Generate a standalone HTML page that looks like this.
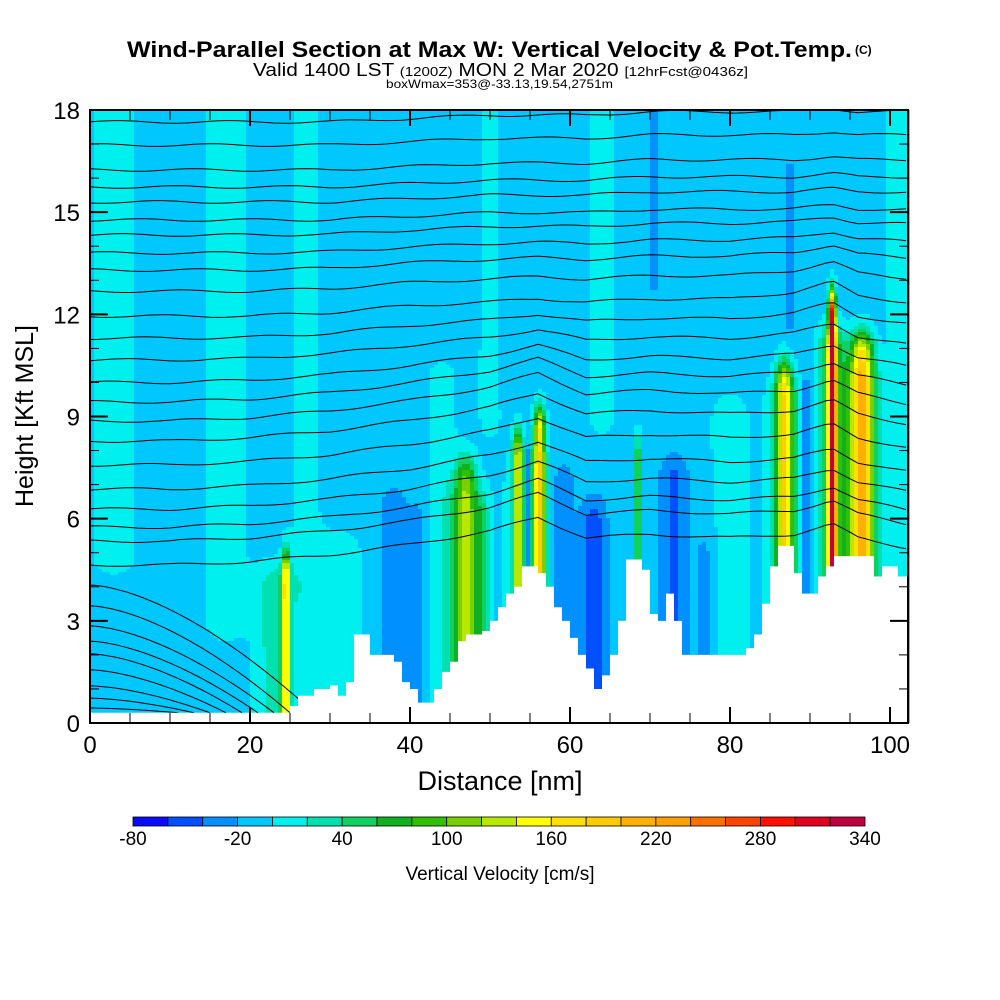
<!DOCTYPE html>
<html><head><meta charset="utf-8"><style>
html,body{margin:0;padding:0;background:#fff;}
svg{display:block;font-family:"Liberation Sans",Arial,sans-serif;}
</style></head><body>
<svg id="chart" width="1000" height="1000" viewBox="0 0 1000 1000">
<rect x="0" y="0" width="1000" height="1000" fill="#fff"/>
<text x="127" y="57" textLength="725" lengthAdjust="spacingAndGlyphs" font-size="22" font-weight="bold">Wind-Parallel Section at Max W: Vertical Velocity &amp; Pot.Temp.</text>
<text x="855" y="54" font-size="12" font-weight="bold">(C)</text>
<text x="253" y="76" textLength="495" lengthAdjust="spacingAndGlyphs" font-size="18">Valid 1400 LST <tspan font-size="13">(1200Z)</tspan> MON 2 Mar 2020 <tspan font-size="13">[12hrFcst@0436z]</tspan></text>
<text x="386" y="88" textLength="227" lengthAdjust="spacingAndGlyphs" font-size="12">boxWmax=353@-33.13,19.54,2751m</text>
<g id="heat"></g>
<g id="contours"></g>
<g id="terrain"></g>
<g id="axes"></g>
<g id="cbar"></g>
<text x="500" y="880" text-anchor="middle" font-size="19">Vertical Velocity [cm/s]</text>
<text x="500" y="790" text-anchor="middle" font-size="27">Distance [nm]</text>
<text transform="translate(33,416) rotate(-90)" text-anchor="middle" font-size="25">Height [Kft MSL]</text>
</svg>
<script>
// ---- data ----
const xTicks = [0,20,40,60,80,100];
const yTicks = [0,3,6,9,12,15,18];
const cbarLabels = [-80,-20,40,100,160,220,280,340];
const cbarColors = ["#0a0aff","#0050ff","#0090ff","#00c8ff","#00f0f0","#00e0b0","#10d060","#10b020","#30c000","#78d000","#b8e800","#ffff00","#ffe000","#ffcc00","#ffb000","#ffa000","#ff7000","#ff4400","#ff1000","#e00020","#c00040"];
const terrainX = [0,24,25,26,28,30,31,32,33,34,35,36,37,38,39,40,41,42,43,44,45,46,47,48,49,50,51,52,53,54,55,56,57,58,59,60,61,62,63,64,65,66,67,68,69,70,71,72,73,74,75,81,82,83,84,85,86,87,88,89,90,91,92,93,97,98,99,100,101,102.3];
const terrainH = [0.3,0.3,0.5,0.8,1.0,1.1,0.8,1.2,2.6,2.6,2.0,2.0,2.0,1.8,1.2,1.0,0.6,0.6,1.0,1.5,1.8,2.4,2.6,2.6,2.7,3.0,3.4,3.8,4.0,4.6,4.6,4.4,4.0,3.4,3.0,2.5,2.0,1.6,1.0,1.4,2.0,3.0,4.8,4.8,4.5,3.2,3.0,3.8,3.0,2.0,2.0,2.0,2.2,2.6,3.5,4.6,5.2,5.2,4.4,3.8,3.8,4.3,4.6,4.9,4.9,4.3,4.6,4.6,4.3,4.3];
const cellX    = [24.5,23.5,47,49,53.5,54.8,56.2,68.5,86.8,89.5,92.8,92.8,96.5,38,41,63,73,59,77,3,17,27,44,50,80,101,64,31,53,70.5,87.5,47,55,87,96];
const cellW    = [0.45,2.5,1.3,0.8,0.6,0.25,0.7,0.5,1.0,0.6,0.45,1.6,1.4,1.8,1.0,1.6,1.8,1.5,1.5,3,3,2,2,1.5,2.5,1.5,2,3,0.3,0.4,0.5,2.5,2.5,2.0,2.5];
const cellTop  = [4.4,4.0,7.2,6,8.0,7.5,8.6,7.8,10.0,9.5,12.0,11,10.8,6.2,5.8,6.0,7.2,7.0,5,18,18,18,10,18,9,18,18,5,18,18,16,6.5,7.5,9.5,10];
const cellBot  = [0,0,0,0,0,0,0,0,0,0,0,0,0,0,0,0,0,0,0,5,3,4,0,9,2,0,9,0,12,13,12,0,0,0,0];
const cellPeak = [170,45,95,40,130,-75,170,70,140,-45,310,90,170,-30,-25,-40,-35,-28,-18,18,16,16,16,16,18,18,14,20,-22,-22,-22,40,40,50,55];
const thetaBase = [17.65,16.97,16.24,15.74,15.3,14.77,14.33,13.8,13.3,12.68,11.95,11.3,10.66,10.0,9.43,8.87,8.28,7.58,6.87,6.28,5.75,5.34,4.64];
const lowBase = [4.05,3.44,2.85,2.4,2.03,1.56,1.09,0.73,0.44];
const lowEnd  = [28,25,23,21,19,17,15,13,11];
const liftX   = [0,10,20,30,40,50,56,62,70,80,88,92.8,96,102.3];
const liftMid = [0,0,0.1,0.3,0.6,1.0,1.4,0.8,0.9,0.8,0.9,1.2,0.8,0.5];
const liftUp  = [0,0,0,0.1,0.3,0.4,0.5,0.4,0.5,0.5,0.7,1.0,0.6,0.4];
const liftTop = [0,0,0,0,0.1,0.2,0.2,0.2,0.3,0.3,0.3,0.4,0.3,0.3];

// ---- scales ----
const X0=90,X1=908,Y0=723,Y1=110;
const sx = nm => X0 + nm*8;
const sy = k => Y0 - k*(Y0-Y1)/18;
const NS="http://www.w3.org/2000/svg";
function mk(tag, attrs, parent){const e=document.createElementNS(NS,tag);for(const k in attrs)e.setAttribute(k,attrs[k]);parent.appendChild(e);return e;}
function interp(xs,ys,x){if(x<=xs[0])return ys[0];for(let i=1;i<xs.length;i++){if(x<=xs[i]){const t=(x-xs[i-1])/(xs[i]-xs[i-1]);return ys[i-1]+t*(ys[i]-ys[i-1]);}}return ys[ys.length-1];}
function field(x,k){let v=-8;for(let i=0;i<cellX.length;i++){const dx=(x-cellX[i])/cellW[i];if(Math.abs(dx)>3)continue;let f=1;if(k>cellTop[i])f=Math.exp(-Math.pow((k-cellTop[i])/0.7,2));else if(k<cellBot[i])f=Math.exp(-Math.pow((k-cellBot[i])/0.7,2));v+=cellPeak[i]*Math.exp(-dx*dx)*f;}return v;}
function bin(v){let b=Math.floor((v+80)/20);return Math.max(0,Math.min(20,b));}

// ---- heatmap ----
const heat=document.getElementById('heat');
const CW=4,RH=3;
function flush(px,y0,y1,b){
  const r=mk('rect',{x:px,y:y0,width:CW,height:y1-y0,fill:cbarColors[b]},heat);
  
  
}
for(let px=X0;px<X1;px+=CW){
  const x=(px+CW/2-X0)/8;
  let runStart=Y1,runBin=null;
  for(let py=Y1;py<Y0;py+=RH){
    const k=(Y0-(py+RH/2))*18/(Y0-Y1);
    const b=bin(field(x,k));
    if(b!==runBin){
      if(runBin!==null)flush(px,runStart,py,runBin);
      runStart=py;runBin=b;
    }
  }
  flush(px,runStart,Y0,runBin);
}

// ---- contours ----
const cg=document.getElementById('contours');
function liftAt(x,base){
  const m=interp(liftX,liftMid,x),u=interp(liftX,liftUp,x),t=interp(liftX,liftTop,x);
  if(base<=9)return m;if(base<=12)return m+(u-m)*(base-9)/3;if(base<=15)return u+(t-u)*(base-12)/3;return t;
}
thetaBase.forEach((b,i)=>{
  let d='';
  for(let x=0;x<=102.3;x+=1){
    let k=b+liftAt(x,b)+0.04*Math.sin(x*0.45+i);
    d+=(d?'L':'M')+sx(x).toFixed(1)+','+sy(k).toFixed(1);
  }
  const p=mk('path',{d:d,fill:'none',stroke:'#000','stroke-width':1},cg);
  
  
});
lowBase.forEach((b,i)=>{
  let d='';const e=lowEnd[i];
  for(let x=0;x<=e;x+=0.5){
    let k=b*(1-Math.pow(x/e,1.6))+0.3*Math.pow(x/e,1.6);
    d+=(d?'L':'M')+sx(x).toFixed(1)+','+sy(k).toFixed(1);
  }
  const p=mk('path',{d:d,fill:'none',stroke:'#000','stroke-width':1},cg);
  
  
});

// ---- terrain ----
const tg=document.getElementById('terrain');
let td='M'+sx(0)+','+Y0;
for(let i=0;i<terrainX.length;i++){
  const xa=terrainX[i], xb=(i+1<terrainX.length)?terrainX[i+1]:102.3;
  td+='L'+sx(xa)+','+sy(terrainH[i])+'L'+sx(xb)+','+sy(terrainH[i]);
}
td+='L'+X1+','+Y0+'Z';
const tp=mk('path',{d:td,fill:'#fff',stroke:'none'},tg);



// ---- axes ----
const ag=document.getElementById('axes');
const frame=mk('rect',{x:X0,y:Y1,width:X1-X0,height:Y0-Y1,fill:'none',stroke:'#000','stroke-width':2},ag);


for(let n=0;n<=102;n+=5){
  const maj=n%20===0,L=maj?16:10;
  mk('line',{x1:sx(n),x2:sx(n),y1:Y0,y2:Y0-L,stroke:'#000','stroke-width':maj?2:1},ag);
  mk('line',{x1:sx(n),x2:sx(n),y1:Y1,y2:Y1+L,stroke:'#000','stroke-width':maj?2:1},ag);
}
for(let k=0;k<=18;k++){
  const maj=k%3===0,L=maj?18:9;
  mk('line',{x1:X0,x2:X0+L,y1:sy(k),y2:sy(k),stroke:'#000','stroke-width':maj?2:1},ag);
  mk('line',{x1:X1,x2:X1-L,y1:sy(k),y2:sy(k),stroke:'#000','stroke-width':maj?2:1},ag);
}
xTicks.forEach(v=>{
  const t=mk('text',{x:sx(v),y:753,'text-anchor':'middle','font-size':24},ag);t.textContent=v;
  
  
});
yTicks.forEach(v=>{
  const t=mk('text',{x:80,y:sy(v)+9,'text-anchor':'end','font-size':24},ag);t.textContent=v;
  
  
});

// ---- colorbar ----
const cb=document.getElementById('cbar');
const CB0=133,CB1=865,bw=(CB1-CB0)/cbarColors.length;
cbarColors.forEach((c,i)=>{
  const r=mk('rect',{x:CB0+i*bw,y:817,width:bw,height:9,fill:c,stroke:'#000','stroke-width':0.8},cb);
  
  
});
cbarLabels.forEach((v,i)=>{
  const t=mk('text',{x:CB0+i*3*bw,y:845,'text-anchor':'middle','font-size':19},cb);t.textContent=v;
  
  
});
</script>
</body></html>
